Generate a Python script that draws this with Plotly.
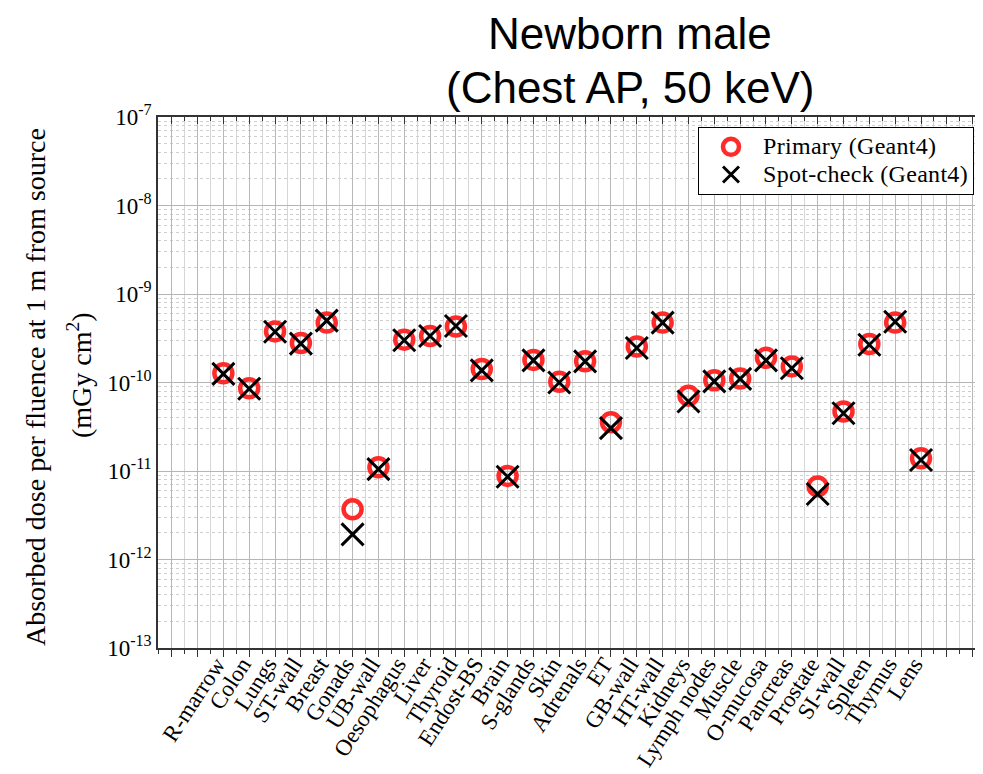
import plotly.graph_objects as go

categories = ["R-marrow", "Colon", "Lungs", "ST-wall", "Breast", "Gonads", "UB-wall",
              "Oesophagus", "Liver", "Thyroid", "Endost-BS", "Brain", "S-glands", "Skin",
              "Adrenals", "ET", "GB-wall", "HT-wall", "Kidneys", "Lymph nodes", "Muscle",
              "O-mucosa", "Pancreas", "Prostate", "SI-wall", "Spleen", "Thymus", "Lens"]

primary = [1.27e-10, 8.6e-11, 3.78e-10, 2.8e-10, 4.75e-10, 3.7e-12, 1.1e-11,
           3.05e-10, 3.35e-10, 4.3e-10, 1.42e-10, 8.8e-12, 1.8e-10, 1.02e-10,
           1.74e-10, 3.55e-11, 2.55e-10, 4.75e-10, 7.1e-11, 1.06e-10, 1.11e-10,
           1.9e-10, 1.52e-10, 6.7e-12, 4.7e-11, 2.72e-10, 4.75e-10, 1.39e-11]

spot_check = [1.25e-10, 8.5e-11, 3.75e-10, 2.75e-10, 5.0e-10, 1.92e-12, 1.05e-11,
              3.0e-10, 3.35e-10, 4.35e-10, 1.37e-10, 8.6e-12, 1.78e-10, 1.0e-10,
              1.73e-10, 3.05e-11, 2.45e-10, 4.75e-10, 6.1e-11, 1.03e-10, 1.1e-10,
              1.78e-10, 1.45e-10, 5.5e-12, 4.5e-11, 2.67e-10, 4.85e-10, 1.33e-11]

y_tick_exponents = [-13, -12, -11, -10, -9, -8, -7]

title_lines = ["Newborn male", "(Chest AP, 50 keV)"]

x_pos = list(range(len(categories)))
major_ticks = list(range(-2, 30))
major_text = [categories[k] if 0 <= k < len(categories) else "" for k in major_ticks]
minor_ticks = [k + 0.5 for k in range(-3, 30)]

serif = "Liberation Serif, Times New Roman, serif"
sans = "Liberation Sans, Arial, sans-serif"

OFF = 8  # page body margin offset
W, H = 983 - OFF, 774 - OFF
L, R, T, B = 158 - OFF, 1, 117 - OFF, 126
PW, PH = W - L - R, H - T - B


def px(xp):
    return (xp - OFF - L) / PW


def py(yp):
    return (H - B - (yp - OFF)) / PH


def leg(s):
    return '<span style="font-size:24px;letter-spacing:0.3px">%s</span>' % s


fig = go.Figure()
fig.add_trace(go.Scatter(
    x=x_pos, y=primary, mode="markers", name=leg("Primary (Geant4)"),
    marker=dict(symbol="circle-open", size=18, color="#ff2a2a", line=dict(width=4.5, color="#ff2a2a"))))
fig.add_trace(go.Scatter(
    x=x_pos, y=spot_check, mode="markers", name=leg("Spot-check (Geant4)"),
    marker=dict(symbol="x-thin-open", size=22, color="black", line=dict(width=3, color="black"))))
fig.add_trace(go.Scatter(x=[None], y=[None], xaxis="x2", showlegend=False, hoverinfo="skip"))

xr = [-2.53, 29.36]
fig.update_layout(
    width=W, height=H,
    margin=dict(l=L, r=R, t=T, b=B, autoexpand=False),
    paper_bgcolor="white", plot_bgcolor="white",
    showlegend=True,
    legend=dict(x=px(698), y=py(127), xanchor="left", yanchor="top",
                bgcolor="white", bordercolor="black", borderwidth=1,
                font=dict(family=serif, size=19, color="black"),
                itemwidth=54, tracegroupgap=0),
    xaxis=dict(range=xr, tickmode="array", tickvals=major_ticks, ticktext=major_text,
               tickangle=-57, tickfont=dict(family=serif, size=23, color="black"),
               ticks="outside", ticklen=7, tickcolor="#333", tickwidth=1.2,
               ticklabelstandoff=-15, ticklabelshift=-7, automargin=False,
               showline=True, linecolor="#333", linewidth=1.5,
               showgrid=True, gridcolor="#b8b8b8", gridwidth=1.3, zeroline=False,
               minor=dict(tickmode="array", tickvals=minor_ticks, ticks="outside", ticklen=4,
                          tickcolor="#333", showgrid=True, gridcolor="#d6d6d6", gridwidth=1)),
    xaxis2=dict(range=xr, overlaying="x", side="top", tickmode="array", tickvals=major_ticks,
                showticklabels=False, ticks="inside", ticklen=7, tickcolor="#333", tickwidth=1.2,
                showline=True, linecolor="#333", linewidth=1.5, showgrid=False, zeroline=False,
                automargin=False,
                minor=dict(tickmode="array", tickvals=minor_ticks, ticks="inside", ticklen=4,
                           tickcolor="#333", showgrid=False)),
    yaxis=dict(type="log", range=[-13, -7], tickmode="array",
               tickvals=[10.0 ** e for e in y_tick_exponents],
               ticktext=["10<sup>%d</sup>" % e for e in y_tick_exponents],
               tickfont=dict(family=serif, size=23, color="black"),
               ticks="", ticklabelstandoff=0, automargin=False,
               showline=True, linecolor="#333", linewidth=1.5, mirror=True,
               showgrid=True, gridcolor="#b5b5b5", gridwidth=1.2, zeroline=False,
               minor=dict(dtick="D1", showgrid=True, gridcolor="#cfcfcf", griddash="dot", gridwidth=1)),
)

for line, yc in zip(title_lines, [34, 87]):
    fig.add_annotation(text=line, xref="paper", yref="paper",
                       x=px(630), y=py(yc), xanchor="center", yanchor="middle", showarrow=False,
                       font=dict(family=sans, size=44, color="black"))
fig.add_annotation(text="Absorbed dose per fluence at 1 m from source", xref="paper", yref="paper",
                   x=px(35), y=py(387), xanchor="center", yanchor="middle",
                   textangle=-90, showarrow=False, font=dict(family=serif, size=28, color="black"))
fig.add_annotation(text="(mGy cm<sup>2</sup>)", xref="paper", yref="paper",
                   x=px(79), y=py(375), xanchor="center", yanchor="middle",
                   textangle=-90, showarrow=False, font=dict(family=serif, size=28, color="black"))

fig.write_html("out.html")
